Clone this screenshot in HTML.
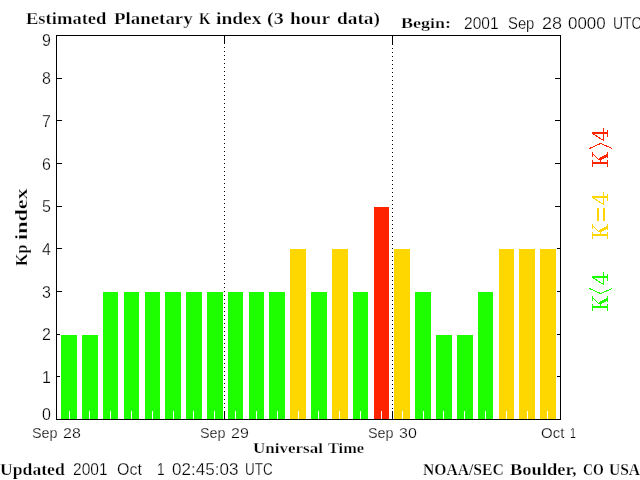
<!DOCTYPE html>
<html><head><meta charset="utf-8"><style>
html,body{margin:0;padding:0;background:#fff;width:640px;height:480px;overflow:hidden}
svg{position:absolute;left:0;top:0;will-change:transform}
.sb{font-family:"Liberation Serif",serif;font-weight:bold;stroke:#fff;stroke-width:0.25px}
.ss{font-family:"Liberation Sans",sans-serif;stroke:#fff;stroke-width:0.25px}
</style></head><body>
<svg width="640" height="480" viewBox="0 0 640 480">
<g shape-rendering="crispEdges">
<rect x="57" y="376" width="5" height="1" fill="#000"/>
<rect x="555" y="376" width="5" height="1" fill="#000"/>
<rect x="57" y="334" width="5" height="1" fill="#000"/>
<rect x="555" y="334" width="5" height="1" fill="#000"/>
<rect x="57" y="291" width="5" height="1" fill="#000"/>
<rect x="555" y="291" width="5" height="1" fill="#000"/>
<rect x="57" y="248" width="5" height="1" fill="#000"/>
<rect x="555" y="248" width="5" height="1" fill="#000"/>
<rect x="57" y="206" width="5" height="1" fill="#000"/>
<rect x="555" y="206" width="5" height="1" fill="#000"/>
<rect x="57" y="163" width="5" height="1" fill="#000"/>
<rect x="555" y="163" width="5" height="1" fill="#000"/>
<rect x="57" y="120" width="5" height="1" fill="#000"/>
<rect x="555" y="120" width="5" height="1" fill="#000"/>
<rect x="57" y="78" width="5" height="1" fill="#000"/>
<rect x="555" y="78" width="5" height="1" fill="#000"/>
<rect x="60" y="334" width="18" height="85" fill="#fff"/>
<rect x="61" y="335" width="16" height="84" fill="#1eff00"/>
<rect x="81" y="334" width="18" height="85" fill="#fff"/>
<rect x="82" y="335" width="16" height="84" fill="#1eff00"/>
<rect x="102" y="291" width="17" height="128" fill="#fff"/>
<rect x="103" y="292" width="15" height="127" fill="#1eff00"/>
<rect x="123" y="291" width="17" height="128" fill="#fff"/>
<rect x="124" y="292" width="15" height="127" fill="#1eff00"/>
<rect x="144" y="291" width="17" height="128" fill="#fff"/>
<rect x="145" y="292" width="15" height="127" fill="#1eff00"/>
<rect x="164" y="291" width="18" height="128" fill="#fff"/>
<rect x="165" y="292" width="16" height="127" fill="#1eff00"/>
<rect x="185" y="291" width="18" height="128" fill="#fff"/>
<rect x="186" y="292" width="16" height="127" fill="#1eff00"/>
<rect x="206" y="291" width="18" height="128" fill="#fff"/>
<rect x="207" y="292" width="16" height="127" fill="#1eff00"/>
<rect x="227" y="291" width="17" height="128" fill="#fff"/>
<rect x="228" y="292" width="15" height="127" fill="#1eff00"/>
<rect x="248" y="291" width="17" height="128" fill="#fff"/>
<rect x="249" y="292" width="15" height="127" fill="#1eff00"/>
<rect x="268" y="291" width="18" height="128" fill="#fff"/>
<rect x="269" y="292" width="16" height="127" fill="#1eff00"/>
<rect x="289" y="248" width="18" height="171" fill="#fff"/>
<rect x="290" y="249" width="16" height="170" fill="#ffd700"/>
<rect x="310" y="291" width="18" height="128" fill="#fff"/>
<rect x="311" y="292" width="16" height="127" fill="#1eff00"/>
<rect x="331" y="248" width="18" height="171" fill="#fff"/>
<rect x="332" y="249" width="16" height="170" fill="#ffd700"/>
<rect x="352" y="291" width="17" height="128" fill="#fff"/>
<rect x="353" y="292" width="15" height="127" fill="#1eff00"/>
<rect x="373" y="206" width="17" height="213" fill="#fff"/>
<rect x="374" y="207" width="15" height="212" fill="#ff2300"/>
<rect x="393" y="248" width="18" height="171" fill="#fff"/>
<rect x="394" y="249" width="16" height="170" fill="#ffd700"/>
<rect x="414" y="291" width="18" height="128" fill="#fff"/>
<rect x="415" y="292" width="16" height="127" fill="#1eff00"/>
<rect x="435" y="334" width="18" height="85" fill="#fff"/>
<rect x="436" y="335" width="16" height="84" fill="#1eff00"/>
<rect x="456" y="334" width="18" height="85" fill="#fff"/>
<rect x="457" y="335" width="16" height="84" fill="#1eff00"/>
<rect x="477" y="291" width="17" height="128" fill="#fff"/>
<rect x="478" y="292" width="15" height="127" fill="#1eff00"/>
<rect x="498" y="248" width="17" height="171" fill="#fff"/>
<rect x="499" y="249" width="15" height="170" fill="#ffd700"/>
<rect x="518" y="248" width="18" height="171" fill="#fff"/>
<rect x="519" y="249" width="16" height="170" fill="#ffd700"/>
<rect x="539" y="248" width="18" height="171" fill="#fff"/>
<rect x="540" y="249" width="16" height="170" fill="#ffd700"/>
<rect x="69" y="411" width="1" height="8" fill="#fff"/>
<rect x="89" y="411" width="1" height="8" fill="#fff"/>
<rect x="110" y="411" width="1" height="8" fill="#fff"/>
<rect x="131" y="411" width="1" height="8" fill="#fff"/>
<rect x="152" y="411" width="1" height="8" fill="#fff"/>
<rect x="173" y="411" width="1" height="8" fill="#fff"/>
<rect x="193" y="411" width="1" height="8" fill="#fff"/>
<rect x="214" y="411" width="1" height="8" fill="#fff"/>
<rect x="235" y="411" width="1" height="8" fill="#fff"/>
<rect x="256" y="411" width="1" height="8" fill="#fff"/>
<rect x="277" y="411" width="1" height="8" fill="#fff"/>
<rect x="298" y="411" width="1" height="8" fill="#fff"/>
<rect x="318" y="411" width="1" height="8" fill="#fff"/>
<rect x="339" y="411" width="1" height="8" fill="#fff"/>
<rect x="360" y="411" width="1" height="8" fill="#fff"/>
<rect x="381" y="411" width="1" height="8" fill="#fff"/>
<rect x="402" y="411" width="1" height="8" fill="#fff"/>
<rect x="423" y="411" width="1" height="8" fill="#fff"/>
<rect x="443" y="411" width="1" height="8" fill="#fff"/>
<rect x="464" y="411" width="1" height="8" fill="#fff"/>
<rect x="485" y="411" width="1" height="8" fill="#fff"/>
<rect x="506" y="411" width="1" height="8" fill="#fff"/>
<rect x="527" y="411" width="1" height="8" fill="#fff"/>
<rect x="547" y="411" width="1" height="8" fill="#fff"/>
<rect x="56" y="35" width="505" height="1" fill="#000"/>
<rect x="56" y="419" width="505" height="1" fill="#000"/>
<rect x="56" y="35" width="1" height="385" fill="#000"/>
<rect x="560" y="35" width="1" height="385" fill="#000"/>
<rect x="224" y="36" width="1" height="8" fill="#000"/>
<rect x="224" y="411" width="1" height="8" fill="#000"/>
<rect x="224" y="47" width="1" height="1" fill="#000"/>
<rect x="224" y="51" width="1" height="1" fill="#000"/>
<rect x="224" y="55" width="1" height="1" fill="#000"/>
<rect x="224" y="59" width="1" height="1" fill="#000"/>
<rect x="224" y="63" width="1" height="1" fill="#000"/>
<rect x="224" y="67" width="1" height="1" fill="#000"/>
<rect x="224" y="71" width="1" height="1" fill="#000"/>
<rect x="224" y="75" width="1" height="1" fill="#000"/>
<rect x="224" y="79" width="1" height="1" fill="#000"/>
<rect x="224" y="83" width="1" height="1" fill="#000"/>
<rect x="224" y="87" width="1" height="1" fill="#000"/>
<rect x="224" y="91" width="1" height="1" fill="#000"/>
<rect x="224" y="95" width="1" height="1" fill="#000"/>
<rect x="224" y="99" width="1" height="1" fill="#000"/>
<rect x="224" y="103" width="1" height="1" fill="#000"/>
<rect x="224" y="107" width="1" height="1" fill="#000"/>
<rect x="224" y="111" width="1" height="1" fill="#000"/>
<rect x="224" y="115" width="1" height="1" fill="#000"/>
<rect x="224" y="119" width="1" height="1" fill="#000"/>
<rect x="224" y="123" width="1" height="1" fill="#000"/>
<rect x="224" y="127" width="1" height="1" fill="#000"/>
<rect x="224" y="131" width="1" height="1" fill="#000"/>
<rect x="224" y="135" width="1" height="1" fill="#000"/>
<rect x="224" y="139" width="1" height="1" fill="#000"/>
<rect x="224" y="143" width="1" height="1" fill="#000"/>
<rect x="224" y="147" width="1" height="1" fill="#000"/>
<rect x="224" y="151" width="1" height="1" fill="#000"/>
<rect x="224" y="155" width="1" height="1" fill="#000"/>
<rect x="224" y="159" width="1" height="1" fill="#000"/>
<rect x="224" y="163" width="1" height="1" fill="#000"/>
<rect x="224" y="167" width="1" height="1" fill="#000"/>
<rect x="224" y="171" width="1" height="1" fill="#000"/>
<rect x="224" y="175" width="1" height="1" fill="#000"/>
<rect x="224" y="179" width="1" height="1" fill="#000"/>
<rect x="224" y="183" width="1" height="1" fill="#000"/>
<rect x="224" y="187" width="1" height="1" fill="#000"/>
<rect x="224" y="191" width="1" height="1" fill="#000"/>
<rect x="224" y="195" width="1" height="1" fill="#000"/>
<rect x="224" y="199" width="1" height="1" fill="#000"/>
<rect x="224" y="203" width="1" height="1" fill="#000"/>
<rect x="224" y="207" width="1" height="1" fill="#000"/>
<rect x="224" y="211" width="1" height="1" fill="#000"/>
<rect x="224" y="215" width="1" height="1" fill="#000"/>
<rect x="224" y="219" width="1" height="1" fill="#000"/>
<rect x="224" y="223" width="1" height="1" fill="#000"/>
<rect x="224" y="227" width="1" height="1" fill="#000"/>
<rect x="224" y="231" width="1" height="1" fill="#000"/>
<rect x="224" y="235" width="1" height="1" fill="#000"/>
<rect x="224" y="239" width="1" height="1" fill="#000"/>
<rect x="224" y="243" width="1" height="1" fill="#000"/>
<rect x="224" y="247" width="1" height="1" fill="#000"/>
<rect x="224" y="251" width="1" height="1" fill="#000"/>
<rect x="224" y="255" width="1" height="1" fill="#000"/>
<rect x="224" y="259" width="1" height="1" fill="#000"/>
<rect x="224" y="263" width="1" height="1" fill="#000"/>
<rect x="224" y="267" width="1" height="1" fill="#000"/>
<rect x="224" y="271" width="1" height="1" fill="#000"/>
<rect x="224" y="275" width="1" height="1" fill="#000"/>
<rect x="224" y="279" width="1" height="1" fill="#000"/>
<rect x="224" y="283" width="1" height="1" fill="#000"/>
<rect x="224" y="287" width="1" height="1" fill="#000"/>
<rect x="224" y="291" width="1" height="1" fill="#000"/>
<rect x="224" y="295" width="1" height="1" fill="#000"/>
<rect x="224" y="299" width="1" height="1" fill="#000"/>
<rect x="224" y="303" width="1" height="1" fill="#000"/>
<rect x="224" y="307" width="1" height="1" fill="#000"/>
<rect x="224" y="311" width="1" height="1" fill="#000"/>
<rect x="224" y="315" width="1" height="1" fill="#000"/>
<rect x="224" y="319" width="1" height="1" fill="#000"/>
<rect x="224" y="323" width="1" height="1" fill="#000"/>
<rect x="224" y="327" width="1" height="1" fill="#000"/>
<rect x="224" y="331" width="1" height="1" fill="#000"/>
<rect x="224" y="335" width="1" height="1" fill="#000"/>
<rect x="224" y="339" width="1" height="1" fill="#000"/>
<rect x="224" y="343" width="1" height="1" fill="#000"/>
<rect x="224" y="347" width="1" height="1" fill="#000"/>
<rect x="224" y="351" width="1" height="1" fill="#000"/>
<rect x="224" y="355" width="1" height="1" fill="#000"/>
<rect x="224" y="359" width="1" height="1" fill="#000"/>
<rect x="224" y="363" width="1" height="1" fill="#000"/>
<rect x="224" y="367" width="1" height="1" fill="#000"/>
<rect x="224" y="371" width="1" height="1" fill="#000"/>
<rect x="224" y="375" width="1" height="1" fill="#000"/>
<rect x="224" y="379" width="1" height="1" fill="#000"/>
<rect x="224" y="383" width="1" height="1" fill="#000"/>
<rect x="224" y="387" width="1" height="1" fill="#000"/>
<rect x="224" y="391" width="1" height="1" fill="#000"/>
<rect x="224" y="395" width="1" height="1" fill="#000"/>
<rect x="224" y="399" width="1" height="1" fill="#000"/>
<rect x="224" y="403" width="1" height="1" fill="#000"/>
<rect x="224" y="407" width="1" height="1" fill="#000"/>
<rect x="392" y="36" width="1" height="9" fill="#000"/>
<rect x="392" y="411" width="1" height="8" fill="#000"/>
<rect x="392" y="48" width="1" height="1" fill="#000"/>
<rect x="392" y="52" width="1" height="1" fill="#000"/>
<rect x="392" y="56" width="1" height="1" fill="#000"/>
<rect x="392" y="60" width="1" height="1" fill="#000"/>
<rect x="392" y="64" width="1" height="1" fill="#000"/>
<rect x="392" y="68" width="1" height="1" fill="#000"/>
<rect x="392" y="72" width="1" height="1" fill="#000"/>
<rect x="392" y="76" width="1" height="1" fill="#000"/>
<rect x="392" y="80" width="1" height="1" fill="#000"/>
<rect x="392" y="84" width="1" height="1" fill="#000"/>
<rect x="392" y="88" width="1" height="1" fill="#000"/>
<rect x="392" y="92" width="1" height="1" fill="#000"/>
<rect x="392" y="96" width="1" height="1" fill="#000"/>
<rect x="392" y="100" width="1" height="1" fill="#000"/>
<rect x="392" y="104" width="1" height="1" fill="#000"/>
<rect x="392" y="108" width="1" height="1" fill="#000"/>
<rect x="392" y="112" width="1" height="1" fill="#000"/>
<rect x="392" y="116" width="1" height="1" fill="#000"/>
<rect x="392" y="120" width="1" height="1" fill="#000"/>
<rect x="392" y="124" width="1" height="1" fill="#000"/>
<rect x="392" y="128" width="1" height="1" fill="#000"/>
<rect x="392" y="132" width="1" height="1" fill="#000"/>
<rect x="392" y="136" width="1" height="1" fill="#000"/>
<rect x="392" y="140" width="1" height="1" fill="#000"/>
<rect x="392" y="144" width="1" height="1" fill="#000"/>
<rect x="392" y="148" width="1" height="1" fill="#000"/>
<rect x="392" y="152" width="1" height="1" fill="#000"/>
<rect x="392" y="156" width="1" height="1" fill="#000"/>
<rect x="392" y="160" width="1" height="1" fill="#000"/>
<rect x="392" y="164" width="1" height="1" fill="#000"/>
<rect x="392" y="168" width="1" height="1" fill="#000"/>
<rect x="392" y="172" width="1" height="1" fill="#000"/>
<rect x="392" y="176" width="1" height="1" fill="#000"/>
<rect x="392" y="180" width="1" height="1" fill="#000"/>
<rect x="392" y="184" width="1" height="1" fill="#000"/>
<rect x="392" y="188" width="1" height="1" fill="#000"/>
<rect x="392" y="192" width="1" height="1" fill="#000"/>
<rect x="392" y="196" width="1" height="1" fill="#000"/>
<rect x="392" y="200" width="1" height="1" fill="#000"/>
<rect x="392" y="204" width="1" height="1" fill="#000"/>
<rect x="392" y="208" width="1" height="1" fill="#000"/>
<rect x="392" y="212" width="1" height="1" fill="#000"/>
<rect x="392" y="216" width="1" height="1" fill="#000"/>
<rect x="392" y="220" width="1" height="1" fill="#000"/>
<rect x="392" y="224" width="1" height="1" fill="#000"/>
<rect x="392" y="228" width="1" height="1" fill="#000"/>
<rect x="392" y="232" width="1" height="1" fill="#000"/>
<rect x="392" y="236" width="1" height="1" fill="#000"/>
<rect x="392" y="240" width="1" height="1" fill="#000"/>
<rect x="392" y="244" width="1" height="1" fill="#000"/>
<rect x="392" y="248" width="1" height="1" fill="#000"/>
<rect x="392" y="252" width="1" height="1" fill="#000"/>
<rect x="392" y="256" width="1" height="1" fill="#000"/>
<rect x="392" y="260" width="1" height="1" fill="#000"/>
<rect x="392" y="264" width="1" height="1" fill="#000"/>
<rect x="392" y="268" width="1" height="1" fill="#000"/>
<rect x="392" y="272" width="1" height="1" fill="#000"/>
<rect x="392" y="276" width="1" height="1" fill="#000"/>
<rect x="392" y="280" width="1" height="1" fill="#000"/>
<rect x="392" y="284" width="1" height="1" fill="#000"/>
<rect x="392" y="288" width="1" height="1" fill="#000"/>
<rect x="392" y="292" width="1" height="1" fill="#000"/>
<rect x="392" y="296" width="1" height="1" fill="#000"/>
<rect x="392" y="300" width="1" height="1" fill="#000"/>
<rect x="392" y="304" width="1" height="1" fill="#000"/>
<rect x="392" y="308" width="1" height="1" fill="#000"/>
<rect x="392" y="312" width="1" height="1" fill="#000"/>
<rect x="392" y="316" width="1" height="1" fill="#000"/>
<rect x="392" y="320" width="1" height="1" fill="#000"/>
<rect x="392" y="324" width="1" height="1" fill="#000"/>
<rect x="392" y="328" width="1" height="1" fill="#000"/>
<rect x="392" y="332" width="1" height="1" fill="#000"/>
<rect x="392" y="336" width="1" height="1" fill="#000"/>
<rect x="392" y="340" width="1" height="1" fill="#000"/>
<rect x="392" y="344" width="1" height="1" fill="#000"/>
<rect x="392" y="348" width="1" height="1" fill="#000"/>
<rect x="392" y="352" width="1" height="1" fill="#000"/>
<rect x="392" y="356" width="1" height="1" fill="#000"/>
<rect x="392" y="360" width="1" height="1" fill="#000"/>
<rect x="392" y="364" width="1" height="1" fill="#000"/>
<rect x="392" y="368" width="1" height="1" fill="#000"/>
<rect x="392" y="372" width="1" height="1" fill="#000"/>
<rect x="392" y="376" width="1" height="1" fill="#000"/>
<rect x="392" y="380" width="1" height="1" fill="#000"/>
<rect x="392" y="384" width="1" height="1" fill="#000"/>
<rect x="392" y="388" width="1" height="1" fill="#000"/>
<rect x="392" y="392" width="1" height="1" fill="#000"/>
<rect x="392" y="396" width="1" height="1" fill="#000"/>
<rect x="392" y="400" width="1" height="1" fill="#000"/>
<rect x="392" y="404" width="1" height="1" fill="#000"/>
<rect x="392" y="408" width="1" height="1" fill="#000"/>
</g>
<g fill="#000">
<text class="sb" x="26" y="24" font-size="16" textLength="80.39" lengthAdjust="spacingAndGlyphs">Estimated</text>
<text class="sb" x="114" y="24" font-size="16" textLength="78.65" lengthAdjust="spacingAndGlyphs">Planetary</text>
<text class="sb" x="199" y="24" font-size="16" textLength="11.42" lengthAdjust="spacingAndGlyphs">K</text>
<text class="sb" x="216" y="24" font-size="16" textLength="45.44" lengthAdjust="spacingAndGlyphs">index</text>
<text class="sb" x="267" y="24" font-size="16" textLength="16.66" lengthAdjust="spacingAndGlyphs">(3</text>
<text class="sb" x="290" y="24" font-size="16" textLength="40.1" lengthAdjust="spacingAndGlyphs">hour</text>
<text class="sb" x="337" y="24" font-size="16" textLength="42.88" lengthAdjust="spacingAndGlyphs">data)</text>
<text class="sb" x="401" y="28" font-size="15" textLength="50.01" lengthAdjust="spacingAndGlyphs">Begin:</text>
<text class="sb" x="253" y="453" font-size="15" textLength="69.93" lengthAdjust="spacingAndGlyphs">Universal</text>
<text class="sb" x="328" y="453" font-size="15" textLength="36.07" lengthAdjust="spacingAndGlyphs">Time</text>
<text class="sb" x="0" y="475" font-size="16" textLength="64.76" lengthAdjust="spacingAndGlyphs">Updated</text>
<text class="sb" x="423" y="475" font-size="16" textLength="80.67" lengthAdjust="spacingAndGlyphs">NOAA/SEC</text>
<text class="sb" x="510" y="475" font-size="16" textLength="66.76" lengthAdjust="spacingAndGlyphs">Boulder,</text>
<text class="sb" x="583" y="475" font-size="16" textLength="20.73" lengthAdjust="spacingAndGlyphs">CO</text>
<text class="sb" x="609" y="475" font-size="16" textLength="30.98" lengthAdjust="spacingAndGlyphs">USA</text>
<text class="ss" x="464" y="29" font-size="16" textLength="34.55" lengthAdjust="spacingAndGlyphs">2001</text>
<text class="ss" x="508" y="29" font-size="16" textLength="26.36" lengthAdjust="spacingAndGlyphs">Sep</text>
<text class="ss" x="542" y="29" font-size="16" textLength="20.02" lengthAdjust="spacingAndGlyphs">28</text>
<text class="ss" x="568" y="29" font-size="16" textLength="37.69" lengthAdjust="spacingAndGlyphs">0000</text>
<text class="ss" x="613" y="29" font-size="16" textLength="28.65" lengthAdjust="spacingAndGlyphs">UTC</text>
<text class="ss" x="73" y="475" font-size="16" textLength="34.55" lengthAdjust="spacingAndGlyphs">2001</text>
<text class="ss" x="117" y="475" font-size="16" textLength="24.89" lengthAdjust="spacingAndGlyphs">Oct</text>
<text class="ss" x="157" y="475" font-size="16" textLength="7.63" lengthAdjust="spacingAndGlyphs">1</text>
<text class="ss" x="172" y="475" font-size="16" textLength="66.37" lengthAdjust="spacingAndGlyphs">02:45:03</text>
<text class="ss" x="245" y="475" font-size="16" textLength="27.59" lengthAdjust="spacingAndGlyphs">UTC</text>
<text class="ss" x="541" y="438" font-size="15" textLength="23.34" lengthAdjust="spacingAndGlyphs">Oct</text>
<text class="ss" x="570" y="438" font-size="15" textLength="5.96" lengthAdjust="spacingAndGlyphs">1</text>
<text class="ss" x="32" y="438" font-size="15" textLength="25.64" lengthAdjust="spacingAndGlyphs">Sep</text>
<text class="ss" x="200" y="438" font-size="15" textLength="25.64" lengthAdjust="spacingAndGlyphs">Sep</text>
<text class="ss" x="368" y="438" font-size="15" textLength="25.64" lengthAdjust="spacingAndGlyphs">Sep</text>
<text class="ss" x="63" y="438" font-size="15" textLength="17.8" lengthAdjust="spacingAndGlyphs">28</text>
<text class="ss" x="231" y="438" font-size="15" textLength="17.8" lengthAdjust="spacingAndGlyphs">29</text>
<text class="ss" x="399" y="438" font-size="15" textLength="17.8" lengthAdjust="spacingAndGlyphs">30</text>
<text class="sb" font-size="16" textLength="21.34" lengthAdjust="spacingAndGlyphs" transform="translate(27,266) rotate(-90)">Kp</text>
<text class="sb" font-size="16" textLength="51.49" lengthAdjust="spacingAndGlyphs" transform="translate(27,240) rotate(-90)">index</text>
</g>
<g class="ss" font-size="16" text-anchor="end" fill="#000">
<text x="51" y="46">9</text>
<text x="51" y="84">8</text>
<text x="51" y="127">7</text>
<text x="51" y="170">6</text>
<text x="51" y="212">5</text>
<text x="51" y="255">4</text>
<text x="51" y="298">3</text>
<text x="51" y="340">2</text>
<text x="51" y="383">1</text>
<text x="51" y="420">0</text>
</g>
<g fill="#1eff00" shape-rendering="crispEdges"><rect x="592" y="306" width="16" height="2"/><rect x="592" y="304" width="1" height="7"/><rect x="607" y="304" width="1" height="7"/><rect x="592" y="296" width="1" height="5"/><rect x="607" y="296" width="1" height="6"/><path d="M593.5 298.5L599.5 304.5" stroke="#1eff00" stroke-width="1" fill="none"/><path d="M599.5 302.5L607.5 298.5" stroke="#1eff00" stroke-width="1" fill="none"/><path d="M599.5 303.5L607.5 299.5" stroke="#1eff00" stroke-width="1" fill="none"/><path d="M600.5 303.5L607.5 300.5" stroke="#1eff00" stroke-width="1" fill="none"/><rect x="600" y="304" width="1" height="2"/><path d="M589.5 288.5L600.5 293.5" stroke="#1eff00" stroke-width="1" fill="none"/><path d="M600.5 293.5L612.5 288.5" stroke="#1eff00" stroke-width="1" fill="none"/><rect x="592" y="276" width="16" height="2"/><rect x="607" y="274" width="1" height="7"/><rect x="603" y="272" width="1" height="13"/><path d="M592.5 277.5L603.5 284.5" stroke="#1eff00" stroke-width="1" fill="none"/></g>
<g fill="#ffd700" shape-rendering="crispEdges"><rect x="592" y="234" width="16" height="2"/><rect x="592" y="232" width="1" height="7"/><rect x="607" y="232" width="1" height="7"/><rect x="592" y="224" width="1" height="5"/><rect x="607" y="224" width="1" height="6"/><path d="M593.5 226.5L599.5 232.5" stroke="#ffd700" stroke-width="1" fill="none"/><path d="M599.5 230.5L607.5 226.5" stroke="#ffd700" stroke-width="1" fill="none"/><path d="M599.5 231.5L607.5 227.5" stroke="#ffd700" stroke-width="1" fill="none"/><path d="M600.5 231.5L607.5 228.5" stroke="#ffd700" stroke-width="1" fill="none"/><rect x="600" y="232" width="1" height="2"/><rect x="597" y="208" width="2" height="13"/><rect x="603" y="208" width="2" height="13"/><rect x="592" y="196" width="16" height="2"/><rect x="607" y="194" width="1" height="7"/><rect x="603" y="192" width="1" height="13"/><path d="M592.5 197.5L603.5 204.5" stroke="#ffd700" stroke-width="1" fill="none"/></g>
<g fill="#ff2300" shape-rendering="crispEdges"><rect x="592" y="162" width="16" height="2"/><rect x="592" y="160" width="1" height="7"/><rect x="607" y="160" width="1" height="7"/><rect x="592" y="152" width="1" height="5"/><rect x="607" y="152" width="1" height="6"/><path d="M593.5 154.5L599.5 160.5" stroke="#ff2300" stroke-width="1" fill="none"/><path d="M599.5 158.5L607.5 154.5" stroke="#ff2300" stroke-width="1" fill="none"/><path d="M599.5 159.5L607.5 155.5" stroke="#ff2300" stroke-width="1" fill="none"/><path d="M600.5 159.5L607.5 156.5" stroke="#ff2300" stroke-width="1" fill="none"/><rect x="600" y="160" width="1" height="2"/><path d="M589.5 148.5L600.5 143.5" stroke="#ff2300" stroke-width="1" fill="none"/><path d="M600.5 143.5L612.5 148.5" stroke="#ff2300" stroke-width="1" fill="none"/><rect x="592" y="132" width="16" height="2"/><rect x="607" y="130" width="1" height="7"/><rect x="603" y="128" width="1" height="13"/><path d="M592.5 133.5L603.5 140.5" stroke="#ff2300" stroke-width="1" fill="none"/></g>
</svg>
</body></html>
